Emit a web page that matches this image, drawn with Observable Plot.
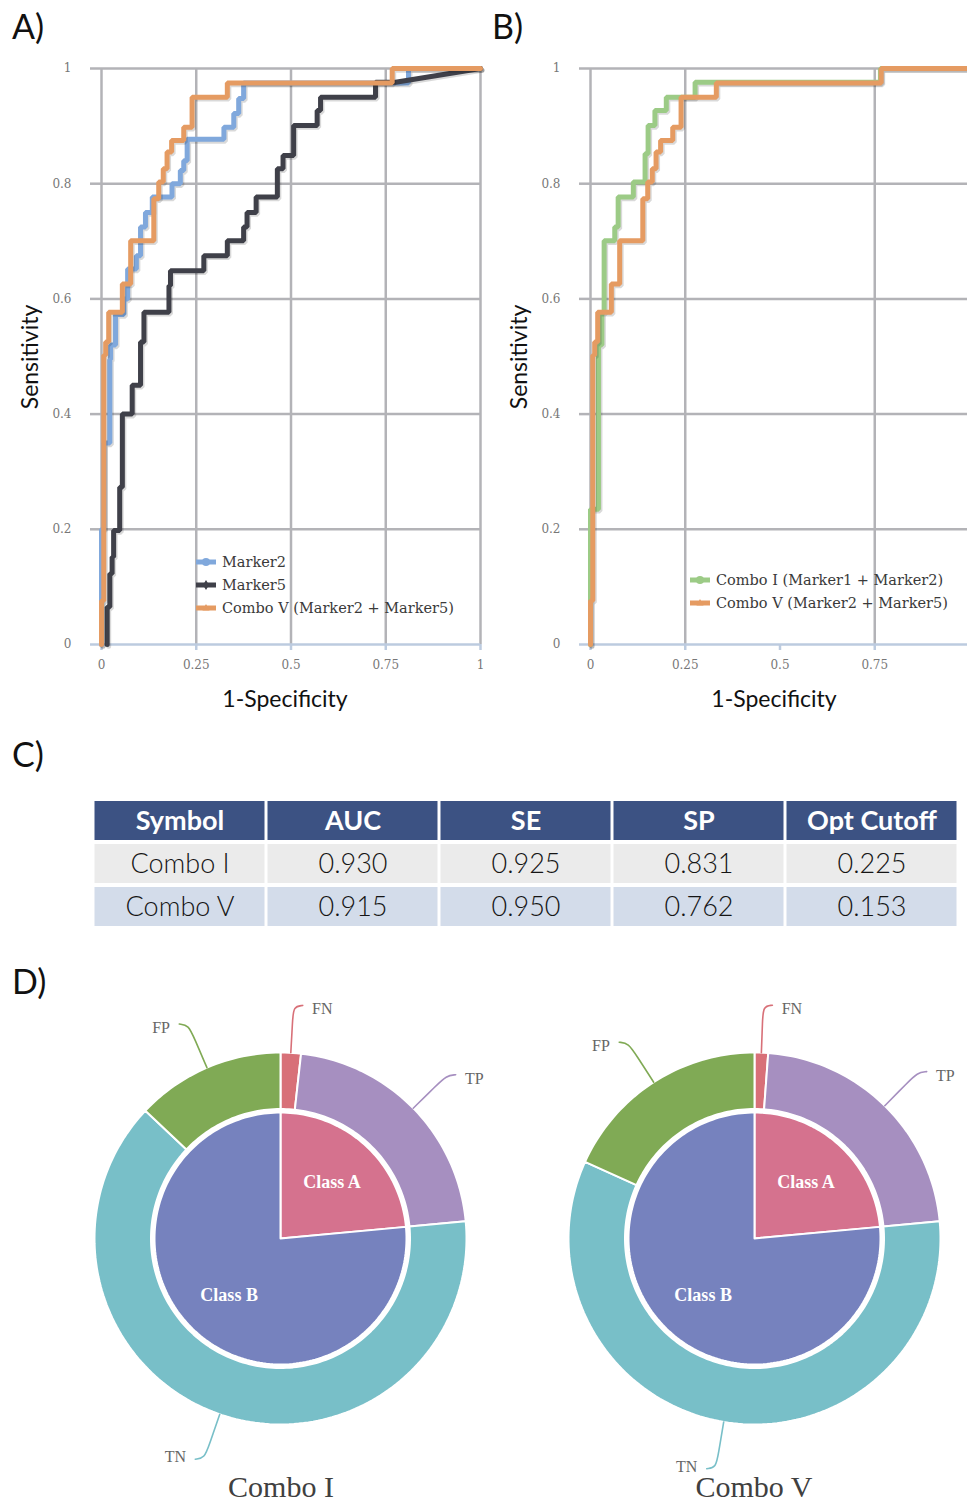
<!DOCTYPE html>
<html><head><meta charset="utf-8">
<script src="https://cdn.jsdelivr.net/npm/d3@7"></script>
<script src="https://cdn.jsdelivr.net/npm/@observablehq/plot@0.6"></script>
<style>
body{margin:0;background:#fff;}
#page{position:relative;width:967px;height:1505px;overflow:hidden;background:#fff;}
.plabel{position:absolute;font-family:Lato,sans-serif;font-size:34px;color:#111;line-height:34px;}
.atitle{position:absolute;font-family:Lato,sans-serif;font-size:23px;color:#111;white-space:nowrap;line-height:23px;transform:translate(-50%,-50%);}
.atitle.rot{transform:translate(-50%,-50%) rotate(-90deg);}
.legrow{position:absolute;display:flex;align-items:center;height:20px;font-family:"DejaVu Serif",serif;font-size:14.5px;color:#3a3a3a;white-space:nowrap;}
.legrow svg{margin-right:6px;}
.ptitle{position:absolute;font-family:"Liberation Serif",serif;font-size:30px;color:#404040;line-height:30px;transform:translateX(-50%);white-space:nowrap;}
</style></head><body><div id="page"></div>
<script>
// ---------------- DATA ----------------
// ROC curves: [1-Specificity, Sensitivity] vertices
const marker2Roc = [[0,0],[0,0.2],[0.006,0.2],[0.006,0.35],[0.022,0.35],[0.022,0.495],[0.024,0.495],[0.024,0.52],[0.037,0.52],[0.037,0.573],[0.059,0.573],[0.059,0.6],[0.069,0.6],[0.069,0.652],[0.092,0.652],[0.092,0.675],[0.103,0.675],[0.103,0.725],[0.116,0.725],[0.116,0.75],[0.134,0.75],[0.134,0.777],[0.186,0.777],[0.186,0.8],[0.208,0.8],[0.208,0.823],[0.217,0.823],[0.217,0.84],[0.226,0.84],[0.226,0.877],[0.323,0.877],[0.323,0.898],[0.349,0.898],[0.349,0.922],[0.362,0.922],[0.362,0.948],[0.375,0.948],[0.375,0.975],[0.81,0.975],[0.81,1],[1,1]];
const marker5Roc = [[0.015,0],[0.015,0.065],[0.022,0.065],[0.022,0.123],[0.028,0.123],[0.028,0.152],[0.032,0.152],[0.032,0.198],[0.048,0.198],[0.048,0.273],[0.055,0.273],[0.055,0.4],[0.081,0.4],[0.081,0.45],[0.103,0.45],[0.103,0.525],[0.112,0.525],[0.112,0.577],[0.178,0.577],[0.178,0.623],[0.182,0.623],[0.182,0.649],[0.27,0.649],[0.27,0.675],[0.332,0.675],[0.332,0.701],[0.375,0.701],[0.375,0.725],[0.384,0.725],[0.384,0.75],[0.408,0.75],[0.408,0.777],[0.464,0.777],[0.464,0.826],[0.479,0.826],[0.479,0.849],[0.507,0.849],[0.507,0.901],[0.569,0.901],[0.569,0.927],[0.578,0.927],[0.578,0.95],[0.723,0.95],[0.723,0.976],[0.776,0.976],[1,1]];
const comboVRoc = [[0,0],[0,0.076],[0.006,0.076],[0.006,0.502],[0.011,0.502],[0.011,0.525],[0.019,0.525],[0.019,0.577],[0.055,0.577],[0.055,0.626],[0.077,0.626],[0.077,0.701],[0.138,0.701],[0.138,0.774],[0.151,0.774],[0.151,0.803],[0.163,0.803],[0.163,0.826],[0.173,0.826],[0.173,0.855],[0.185,0.855],[0.185,0.875],[0.217,0.875],[0.217,0.898],[0.239,0.898],[0.239,0.95],[0.332,0.95],[0.332,0.975],[0.767,0.975],[0.767,1],[1,1]];
const comboIRoc = [[0,0],[0,0.235],[0.021,0.235],[0.021,0.52],[0.03,0.52],[0.03,0.577],[0.036,0.577],[0.036,0.701],[0.064,0.701],[0.064,0.725],[0.073,0.725],[0.073,0.777],[0.113,0.777],[0.113,0.803],[0.144,0.803],[0.144,0.852],[0.152,0.852],[0.152,0.901],[0.17,0.901],[0.17,0.927],[0.2,0.927],[0.2,0.95],[0.276,0.95],[0.276,0.976],[0.765,0.976],[0.765,1],[1,1]];

const xTicksA = [0, 0.25, 0.5, 0.75, 1];
const xGridB = [0, 0.25, 0.75, 1];
const xTicksB = [0, 0.25, 0.5, 0.75];
const yGridTicks = [0.2, 0.4, 0.6, 0.8, 1];

const seriesA = [
  {label: "Marker2", data: marker2Roc, color: "#80a8dc", marker: "circle"},
  {label: "Marker5", data: marker5Roc, color: "#3f4049", marker: "diamond"},
  {label: "Combo V (Marker2 + Marker5)", data: comboVRoc, color: "#e59b62", marker: "triangle"}
];
const seriesB = [
  {label: "Combo I (Marker1 + Marker2)", data: comboIRoc, color: "#9ccb86", marker: "circle"},
  {label: "Combo V (Marker2 + Marker5)", data: comboVRoc, color: "#e59b62", marker: "triangle"}
];

// Table
const tableColumns = ["Symbol", "AUC", "SE", "SP", "Opt Cutoff"];
const comboNames = ["Combo I", "Combo V"];
const aucValues = ["0.930", "0.915"];
const seValues = ["0.925", "0.950"];
const spValues = ["0.831", "0.762"];
const cutoffValues = ["0.225", "0.153"];

// Pies (counts)
const classCounts = [["Class A", 40], ["Class B", 130]];
const comboIOutcomes = [["FN", 3], ["TP", 37], ["TN", 108], ["FP", 22]];
const comboVOutcomes = [["FN", 2], ["TP", 38], ["TN", 99], ["FP", 31]];
const classColors = {"Class A": "#d5728e", "Class B": "#7682be"};
const outcomeColors = {FN: "#d87078", TP: "#a68fc0", TN: "#78bfc8", FP: "#80aa55"};

// ---------------- LAYOUT HELPERS ----------------
const page = document.getElementById("page");
function put(el, left, top) {
  el.style.position = "absolute";
  el.style.left = left + "px";
  el.style.top = top + "px";
  page.appendChild(el);
  return el;
}
function div(cls, text, left, top) {
  const d = document.createElement("div");
  d.className = cls;
  d.textContent = text;
  d.style.left = left + "px";
  d.style.top = top + "px";
  page.appendChild(d);
  return d;
}

// ---------------- ROC CHARTS ----------------
const gridColor = "#b3b3b7";
const axisColor = "#bccbdf";
const tickFont = {fill: "#777", fontFamily: "DejaVu Serif", fontSize: 12, tickFormat: d => String(d), label: null};

function rocChart(series, gridX, ticksX) {
  const marks = [
    Plot.gridX({ticks: gridX, stroke: gridColor, strokeOpacity: 1, strokeWidth: 2.5}),
    Plot.gridY({ticks: yGridTicks, stroke: gridColor, strokeOpacity: 1, strokeWidth: 2.5}),
    Plot.axisY({ticks: yGridTicks, tickSize: 11, tickPadding: 19, stroke: gridColor, strokeWidth: 2.5, ...tickFont}),
    Plot.axisY({ticks: [0], tickSize: 11, tickPadding: 19, stroke: axisColor, strokeWidth: 2.5, ...tickFont}),
    Plot.ruleY([0], {stroke: axisColor, strokeWidth: 2.5}),
    Plot.axisX({ticks: ticksX, tickSize: 6, tickPadding: 10, stroke: axisColor, strokeWidth: 2.5, ...tickFont})
  ];
  for (const s of series) {
    marks.push(Plot.line(s.data, {x: d => d[0], y: d => d[1], stroke: "#000", strokeOpacity: 0.15, strokeWidth: 5, dx: 1.5, dy: 1.8, strokeLinejoin: "miter"}));
    marks.push(Plot.line(s.data, {x: d => d[0], y: d => d[1], stroke: s.color, strokeWidth: 5, strokeLinejoin: "miter"}));
  }
  return Plot.plot({
    width: 490, height: 700,
    marginTop: 68, marginLeft: 101, marginRight: 10, marginBottom: 56,
    x: {domain: [0, 1]}, y: {domain: [0, 1]},
    style: {background: "transparent", overflow: "visible"},
    marks
  });
}

function markerSvg(color, marker) {
  const ns = "http://www.w3.org/2000/svg";
  const svg = document.createElementNS(ns, "svg");
  svg.setAttribute("width", 20); svg.setAttribute("height", 12);
  const ln = document.createElementNS(ns, "line");
  ln.setAttribute("x1", 0); ln.setAttribute("x2", 20); ln.setAttribute("y1", 6); ln.setAttribute("y2", 6);
  ln.setAttribute("stroke", color); ln.setAttribute("stroke-width", 5);
  svg.appendChild(ln);
  let m;
  if (marker === "circle") {
    m = document.createElementNS(ns, "circle");
    m.setAttribute("cx", 10); m.setAttribute("cy", 6); m.setAttribute("r", 4);
  } else if (marker === "diamond") {
    m = document.createElementNS(ns, "path");
    m.setAttribute("d", "M10,1L13,6L10,11L7,6Z");
  } else {
    m = document.createElementNS(ns, "path");
    m.setAttribute("d", "M10,2L13.5,8.5L6.5,8.5Z");
  }
  m.setAttribute("fill", color);
  svg.appendChild(m);
  return svg;
}
function legend(series, left, top, step) {
  series.forEach((s, i) => {
    const row = document.createElement("div");
    row.className = "legrow";
    row.appendChild(markerSvg(s.color, s.marker));
    const t = document.createElement("span");
    t.textContent = s.label;
    row.appendChild(t);
    row.style.left = left + "px";
    row.style.top = (top + i * step - 10) + "px";
    page.appendChild(row);
  });
}

put(rocChart(seriesA, xTicksA, xTicksA), 0, 0);
put(rocChart(seriesB, xGridB, xTicksB), 489, 0);
legend(seriesA, 196, 562, 23);
legend(seriesB, 690, 580, 23);

div("plabel", "A)", 12, 9);
div("plabel", "B)", 492, 9);
div("plabel", "C)", 12, 737);
div("plabel", "D)", 12, 964);
div("atitle rot", "Sensitivity", 29, 357);
div("atitle", "1-Specificity", 285, 698);
div("atitle rot", "Sensitivity", 518, 357);
div("atitle", "1-Specificity", 774, 698);

// ---------------- TABLE ----------------
const rowFills = ["#ebebeb", "#d3dcea"];
const cells = [];
tableColumns.forEach(c => cells.push({row: "header", col: c, text: c, fill: "#3c5283", header: true}));
comboNames.forEach((name, i) => {
  const vals = [name, aucValues[i], seValues[i], spValues[i], cutoffValues[i]];
  tableColumns.forEach((c, j) => cells.push({row: name, col: c, text: vals[j], fill: rowFills[i], header: false}));
});
const tablePlot = Plot.plot({
  width: 866, height: 131, margin: 0,
  x: {type: "band", domain: tableColumns, padding: 0, axis: null},
  y: {type: "band", domain: ["header", ...comboNames], padding: 0, axis: null},
  color: {type: "identity"},
  style: {background: "transparent"},
  marks: [
    Plot.cell(cells, {x: "col", y: "row", fill: "fill", insetLeft: 1.5, insetRight: 1.5, insetTop: 2, insetBottom: 2}),
    Plot.text(cells.filter(d => d.header), {x: "col", y: "row", text: "text", fill: "white", fontWeight: "bold", fontSize: 27, fontFamily: "Lato"}),
    Plot.text(cells.filter(d => !d.header), {x: "col", y: "row", text: "text", fill: "#151515", fontSize: 27, fontFamily: "Lato", fontWeight: 300})
  ]
});
put(tablePlot, 92, 798);

// ---------------- PIES ----------------
const R = 186; // px per unit radius
const pieW = 480, pieH = 510, pieCX = 240, pieCY = 270;
const polar = (r, a) => [r * Math.sin(a * Math.PI / 180), r * Math.cos(a * Math.PI / 180)];
function slices(entries, r0, r1) {
  const total = d3.sum(entries, d => d[1]);
  let acc = 0;
  return entries.map(([name, v]) => {
    const a0 = acc / total * 360; acc += v;
    const a1 = acc / total * 360;
    return {name, v, a0, a1, mid: (a0 + a1) / 2, r0, r1};
  });
}
function ringCoords(s) {
  const n = Math.max(2, Math.ceil((s.a1 - s.a0) / 1.5));
  const pts = [];
  for (let i = 0; i <= n; i++) pts.push(polar(s.r1, s.a0 + (s.a1 - s.a0) * i / n));
  if (s.r0 === 0) pts.push([0, 0]);
  else for (let i = n; i >= 0; i--) pts.push(polar(s.r0, s.a0 + (s.a1 - s.a0) * i / n));
  pts.push(pts[0]);
  return pts;
}
function pieChart(outcomes) {
  const inner = slices(classCounts, 0, 126 / R);
  const outer = slices(outcomes, 129.5 / R, 1);
  const feats = [...inner.map(s => ({...s, color: classColors[s.name]})), ...outer.map(s => ({...s, color: outcomeColors[s.name]}))]
    .map(s => ({type: "Feature", properties: s, geometry: {type: "Polygon", coordinates: [ringCoords(s)]}}));
  const leaders = [], labels = [];
  outer.forEach(s => {
    const side = Math.sin(s.mid * Math.PI / 180) >= 0 ? 1 : -1;
    const p0 = polar(1.0, s.mid), p1 = polar(1.17, s.mid), p2 = polar(1.25, s.mid);
    const p3 = [p2[0] + side * 0.05, p2[1] + 0.005 * Math.sign(p2[1])];
    [p0, p1, p2, p3].forEach(p => leaders.push({name: s.name, x: p[0], y: p[1], color: outcomeColors[s.name]}));
    labels.push({name: s.name, x: p3[0] + side * 0.05, y: p3[1] - (p3[1] > 0 ? 0.02 : -0.01), side});
  });
  const classLabels = inner.map(s => { const p = polar(0.41, s.mid); return {name: s.name, x: p[0], y: p[1]}; });
  // domain box = the whole svg, so nothing (labels, leaders) is clipped
  const domainBox = {type: "MultiPoint", coordinates: [[-pieCX / R, -(pieH - pieCY) / R], [(pieW - pieCX) / R, pieCY / R]]};
  return Plot.plot({
    width: pieW, height: pieH, margin: 0,
    projection: {type: "reflect-y", domain: domainBox},
    color: {type: "identity"},
    style: {background: "transparent", overflow: "visible"},
    marks: [
      Plot.geo(feats, {fill: d => d.properties.color, stroke: "white", strokeWidth: 2}),
      Plot.line(leaders, {x: "x", y: "y", z: "name", stroke: "color", strokeWidth: 1.6, curve: "basis"}),
      Plot.text(labels.filter(d => d.side > 0), {x: "x", y: "y", text: "name", textAnchor: "start", fill: "#666", fontFamily: "Liberation Serif", fontSize: 16}),
      Plot.text(labels.filter(d => d.side < 0), {x: "x", y: "y", text: "name", textAnchor: "end", fill: "#666", fontFamily: "Liberation Serif", fontSize: 16}),
      Plot.text(classLabels, {x: "x", y: "y", text: "name", fill: "white", fontFamily: "Liberation Serif", fontWeight: "bold", fontSize: 18})
    ]
  });
}
put(pieChart(comboIOutcomes), 280 - pieCX, 1238 - pieCY);
put(pieChart(comboVOutcomes), 754 - pieCX, 1238 - pieCY);
div("ptitle", "Combo I", 281, 1472);
div("ptitle", "Combo V", 754, 1472);
</script>
</body></html>
